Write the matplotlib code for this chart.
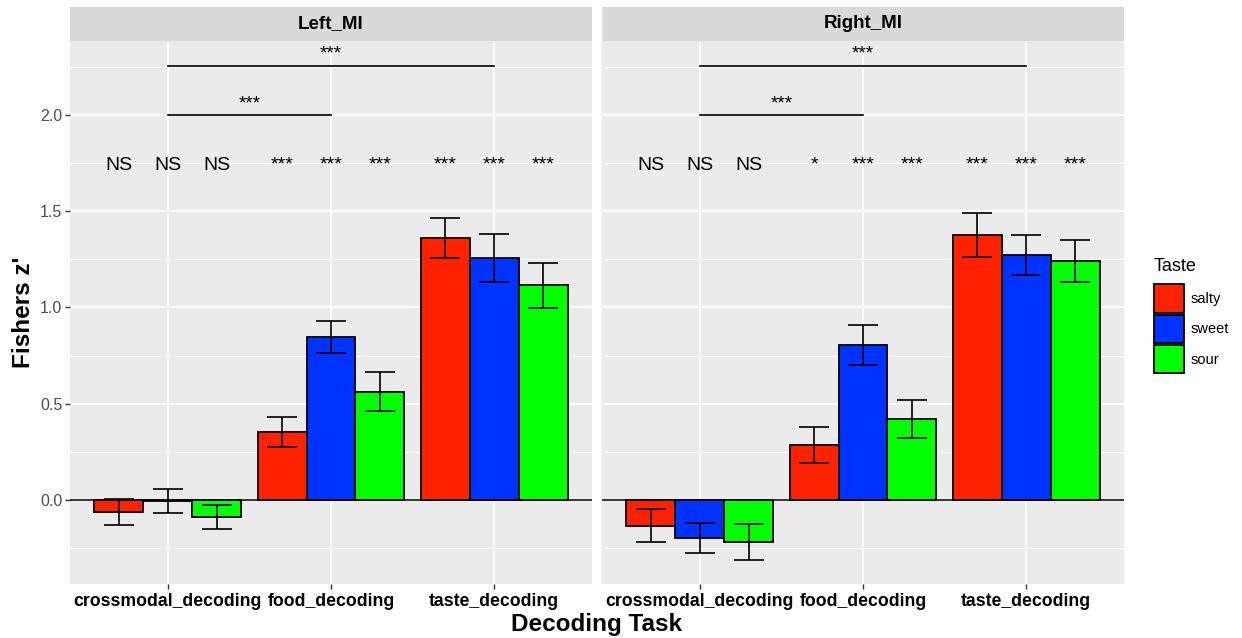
import numpy as np
import matplotlib.pyplot as plt
from matplotlib.patches import Patch
from matplotlib.ticker import MultipleLocator

plt.rcParams['font.family'] = ['Liberation Sans', 'DejaVu Sans']

tasks = ['crossmodal_decoding', 'food_decoding', 'taste_decoding']
tastes = ['salty', 'sweet', 'sour']
colors = ['#ff2200', '#0033ff', '#00ff00']
panels = ['Left_MI', 'Right_MI']

# mean Fisher z' per task (rows) and taste (cols)
left_mean = [[-0.06, -0.005, -0.09],
             [0.353, 0.847, 0.563],
             [1.362, 1.257, 1.116]]
left_se = [[0.067, 0.06, 0.062],
           [0.08, 0.083, 0.1],
           [0.104, 0.125, 0.117]]
right_mean = [[-0.133, -0.196, -0.218],
              [0.286, 0.806, 0.42],
              [1.378, 1.273, 1.242]]
right_se = [[0.085, 0.079, 0.095],
            [0.093, 0.104, 0.098],
            [0.115, 0.105, 0.108]]

left_sig = [['NS', 'NS', 'NS'], ['***', '***', '***'], ['***', '***', '***']]
right_sig = [['NS', 'NS', 'NS'], ['*', '***', '***'], ['***', '***', '***']]

# pairwise comparisons: (task a, task b, bar height, label)
brackets = [(0, 1, 2.0, '***'), (0, 2, 2.255, '***')]

means = {'Left_MI': left_mean, 'Right_MI': right_mean}
ses = {'Left_MI': left_se, 'Right_MI': right_se}
sigs = {'Left_MI': left_sig, 'Right_MI': right_sig}

W, H = 1242, 638
fig = plt.figure(figsize=(W / 100, H / 100), dpi=100)

panel_x = [70, 602]
panel_w = 522
top, bottom = 41, 584
strip_top = 7

width = 0.3
offsets = [-0.3, 0.0, 0.3]
x = np.arange(len(tasks))

for k, name in enumerate(panels):
    ax = fig.add_axes([panel_x[k] / W, 1 - bottom / H, panel_w / W, (bottom - top) / H])
    ax.set_facecolor('#ebebeb')
    for s in ax.spines.values():
        s.set_visible(False)

    m = np.array(means[name])
    e = np.array(ses[name])
    for j, taste in enumerate(tastes):
        ax.bar(x + offsets[j], m[:, j], width, color=colors[j], edgecolor='black',
               linewidth=1.3, zorder=3)
        ax.errorbar(x + offsets[j], m[:, j], yerr=e[:, j], fmt='none', ecolor='black',
                    elinewidth=1.2, capsize=11, capthick=1.2, zorder=4)
        for i in range(len(tasks)):
            ax.text(x[i] + offsets[j], 1.74, sigs[name][i][j], ha='center', va='center',
                    fontsize=14, color='black', zorder=5)

    ax.axhline(0, color='black', linewidth=1.1, zorder=5)

    for a, b, h, lab in brackets:
        ax.plot([x[a], x[b]], [h, h], color='black', linewidth=1.2, zorder=5)
        ax.text((x[a] + x[b]) / 2, h + 0.015, lab, ha='center', va='bottom',
                fontsize=13.5, color='black', zorder=5)

    ax.set_xlim(-0.6, 2.6)
    ax.set_ylim(-0.436, 2.384)
    ax.set_xticks(x)
    ax.set_xticklabels(tasks, fontsize=12.7, fontweight='bold', color='black')
    ax.yaxis.set_major_locator(MultipleLocator(0.5))
    ax.yaxis.set_minor_locator(MultipleLocator(0.25))
    ax.grid(which='major', color='white', linewidth=1.1, zorder=0)
    ax.grid(which='minor', axis='y', color='white', linewidth=0.55, zorder=0)
    ax.set_axisbelow(True)
    ax.tick_params(axis='x', length=3.5, width=1, color='#333333', pad=3)
    ax.tick_params(axis='y', which='major', length=3.5, width=1, color='#333333',
                   labelsize=11.5, labelcolor='#4d4d4d', pad=2)
    ax.tick_params(axis='y', which='minor', length=0)
    if k == 0:
        ax.set_yticklabels(['%.1f' % v for v in ax.get_yticks()])
    else:
        ax.tick_params(axis='y', which='major', length=0, labelleft=False)

    # facet strip
    sax = fig.add_axes([panel_x[k] / W, 1 - top / H, panel_w / W, (top - strip_top) / H])
    sax.set_facecolor('#d9d9d9')
    sax.set_xticks([])
    sax.set_yticks([])
    for s in sax.spines.values():
        s.set_visible(False)
    sax.text(0.5, 0.5, name, ha='center', va='center', fontsize=13.5,
             fontweight='bold', transform=sax.transAxes)

fig.text(597 / W, 1 - 624 / H, 'Decoding Task', ha='center', va='center',
         fontsize=17.5, fontweight='bold')
fig.text(24 / W, 1 - 312 / H, "Fishers z'", ha='center', va='center',
         fontsize=17.5, fontweight='bold', rotation=90)

handles = [Patch(facecolor=c, edgecolor='black', linewidth=1.3, label=t)
           for c, t in zip(colors, tastes)]
leg = fig.legend(handles=handles, title='Taste', loc='upper left',
                 bbox_to_anchor=(1142 / W, 1 - 246 / H), frameon=False,
                 fontsize=10.5, title_fontsize=13, handlelength=2.05,
                 handleheight=2.6, handletextpad=0.5, labelspacing=0.15,
                 borderpad=0.3)
leg._legend_box.align = 'left'
leg._legend_box.sep = 7

fig.savefig('out.png', dpi=100)
